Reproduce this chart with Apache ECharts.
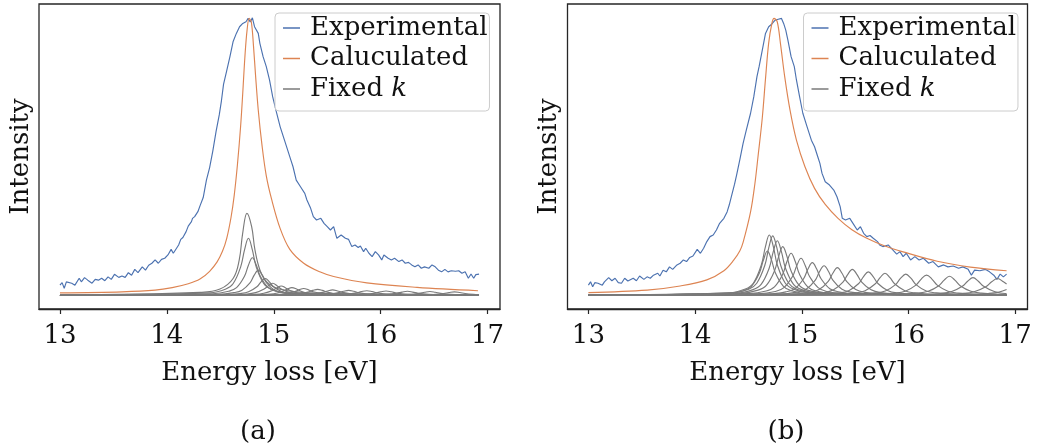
<!DOCTYPE html>
<html>
<head>
<meta charset="utf-8">
<script src="https://cdn.jsdelivr.net/npm/echarts@6.0.0/dist/echarts.min.js"></script>
<style>
html,body{margin:0;padding:0;background:#fff;}
#chart{width:1040px;height:446px;}
</style>
</head>
<body>
<div id="chart"></div>
<script>
// ---------- DATA ----------
const xTicks = [13, 14, 15, 16, 17];
const legendNames = ['Experimental', 'Caluculated', 'Fixed k'];
const panelLabels = ['(a)', '(b)'];

const expLeft = [[13.00,.036],[13.02,.045],[13.04,.025],[13.06,.048],[13.11,.043],[13.14,.036],[13.18,.061],[13.20,.048],[13.23,.063],[13.26,.054],[13.30,.043],[13.33,.057],[13.36,.054],[13.39,.061],[13.42,.052],[13.45,.066],[13.48,.057],[13.51,.075],[13.55,.064],[13.58,.069],[13.61,.064],[13.64,.081],[13.67,.072],[13.70,.093],[13.73,.081],[13.77,.102],[13.80,.090],[13.83,.108],[13.86,.115],[13.89,.127],[13.92,.115],[13.95,.129],[13.98,.133],[14.01,.145],[14.04,.165],[14.06,.151],[14.08,.163],[14.11,.181],[14.13,.201],[14.15,.208],[14.18,.229],[14.20,.249],[14.23,.265],[14.24,.277],[14.26,.283],[14.29,.301],[14.31,.322],[14.34,.352],[14.37,.415],[14.40,.460],[14.43,.520],[14.46,.590],[14.49,.650],[14.51,.700],[14.53,.760],[14.56,.810],[14.59,.860],[14.62,.915],[14.65,.944],[14.68,.968],[14.71,.980],[14.74,.986],[14.76,.998],[14.78,.985],[14.80,1.0],[14.82,.968],[14.855,.944],[14.87,.908],[14.90,.860],[14.93,.824],[14.96,.776],[14.99,.715],[15.02,.667],[15.06,.607],[15.10,.559],[15.13,.523],[15.16,.487],[15.18,.463],[15.21,.415],[15.25,.391],[15.29,.367],[15.31,.343],[15.345,.313],[15.37,.283],[15.40,.271],[15.44,.277],[15.47,.259],[15.50,.247],[15.53,.235],[15.56,.247],[15.59,.205],[15.63,.217],[15.67,.205],[15.70,.201],[15.73,.175],[15.76,.181],[15.79,.172],[15.81,.177],[15.84,.157],[15.86,.169],[15.89,.151],[15.92,.139],[15.95,.157],[15.98,.145],[16.01,.127],[16.03,.145],[16.07,.133],[16.10,.127],[16.13,.133],[16.17,.121],[16.20,.127],[16.23,.115],[16.26,.118],[16.29,.109],[16.32,.102],[16.35,.109],[16.38,.097],[16.41,.102],[16.45,.097],[16.48,.109],[16.51,.102],[16.54,.090],[16.57,.084],[16.60,.093],[16.63,.084],[16.66,.088],[16.70,.086],[16.73,.088],[16.76,.079],[16.79,.084],[16.82,.061],[16.845,.076],[16.87,.061],[16.89,.074],[16.92,.076]];

const calcLeft = [[13.00,.008],[13.58,.012],[13.89,.018],[14.05,.027],[14.20,.041],[14.31,.058],[14.40,.086],[14.47,.120],[14.52,.158],[14.56,.205],[14.60,.280],[14.63,.360],[14.66,.470],[14.69,.610],[14.71,.730],[14.73,.860],[14.75,.955],[14.77,.998],[14.79,.985],[14.81,.900],[14.83,.790],[14.855,.667],[14.89,.540],[14.93,.430],[14.98,.345],[15.06,.240],[15.15,.165],[15.28,.115],[15.43,.084],[15.56,.067],[15.87,.044],[16.34,.028],[16.91,.016]];

const fixedKLeft = [
 [[13,0],[14.31,0.01],[14.497,0.022],[14.621,0.061],[14.677,0.127],[14.709,0.223],[14.749,0.295],[14.793,0.247],[14.824,0.163],[14.871,0.09],[14.934,0.048],[15.06,0.021],[15.4,0.007],[16.92,0.001]],
 [[13,0],[14.403,0.008],[14.547,0.021],[14.619,0.041],[14.691,0.103],[14.727,0.164],[14.763,0.205],[14.799,0.164],[14.835,0.103],[14.907,0.041],[14.979,0.021],[15.123,0.008],[16.92,0]],
 [[13,0],[14.43,0.005],[14.578,0.014],[14.652,0.027],[14.726,0.068],[14.763,0.108],[14.8,0.135],[14.837,0.108],[14.874,0.068],[14.948,0.027],[15.022,0.014],[15.17,0.005],[16.92,0]],
 [[13,0],[14.475,0.003],[14.627,0.009],[14.703,0.018],[14.779,0.045],[14.817,0.072],[14.855,0.09],[14.893,0.072],[14.931,0.045],[15.007,0.018],[15.083,0.009],[15.235,0.003],[16.92,0]],
 [[13,0],[14.53,0.002],[14.686,0.006],[14.764,0.012],[14.842,0.03],[14.881,0.048],[14.92,0.06],[14.959,0.048],[14.998,0.03],[15.076,0.012],[15.154,0.006],[15.31,0.002],[16.92,0]],
 [[13,0],[14.59,0.002],[14.75,0.004],[14.83,0.009],[14.91,0.022],[14.95,0.034],[14.99,0.043],[15.03,0.034],[15.07,0.022],[15.15,0.009],[15.23,0.004],[15.39,0.002],[16.92,0]],
 [[13,0],[14.66,0.001],[14.824,0.003],[14.906,0.007],[14.988,0.017],[15.029,0.026],[15.07,0.033],[15.111,0.026],[15.152,0.017],[15.234,0.007],[15.316,0.003],[15.48,0.001],[16.92,0]],
 [[13,0],[14.745,0.001],[14.915,0.003],[15.0,0.005],[15.085,0.014],[15.128,0.022],[15.17,0.027],[15.213,0.022],[15.255,0.014],[15.34,0.005],[15.425,0.003],[15.595,0.001],[16.92,0]],
 [[13,0],[14.84,0.001],[15.016,0.002],[15.104,0.005],[15.192,0.012],[15.236,0.019],[15.28,0.024],[15.324,0.019],[15.368,0.012],[15.456,0.005],[15.544,0.002],[15.72,0.001],[16.92,0]],
 [[13,0],[14.96,0.001],[15.14,0.002],[15.23,0.004],[15.32,0.011],[15.365,0.017],[15.41,0.021],[15.455,0.017],[15.5,0.011],[15.59,0.004],[15.68,0.002],[15.86,0.001],[16.92,0]],
 [[13,0],[15.085,0.001],[15.271,0.002],[15.364,0.004],[15.457,0.01],[15.504,0.015],[15.55,0.019],[15.597,0.015],[15.643,0.01],[15.736,0.004],[15.829,0.002],[16.015,0.001],[16.92,0]],
 [[13,0],[15.22,0.001],[15.412,0.002],[15.508,0.003],[15.604,0.009],[15.652,0.014],[15.7,0.017],[15.748,0.014],[15.796,0.009],[15.892,0.003],[15.988,0.002],[16.18,0.001],[16.92,0]],
 [[13,0],[15.37,0.001],[15.57,0.002],[15.67,0.003],[15.77,0.008],[15.82,0.013],[15.87,0.016],[15.92,0.013],[15.97,0.008],[16.07,0.003],[16.17,0.002],[16.37,0.001],[16.92,0]],
 [[13,0],[15.55,0.001],[15.75,0.0015],[15.85,0.003],[15.95,0.0075],[16.0,0.012],[16.05,0.015],[16.1,0.012],[16.15,0.0075],[16.25,0.003],[16.35,0.0015],[16.55,0.001],[16.92,0]],
 [[13,0],[15.75,0.001],[15.95,0.0014],[16.05,0.003],[16.15,0.007],[16.2,0.011],[16.25,0.014],[16.3,0.011],[16.35,0.007],[16.45,0.003],[16.55,0.0014],[16.75,0.001],[16.92,0]],
 [[13,0],[15.96,0.0005],[16.16,0.0013],[16.26,0.0026],[16.36,0.0065],[16.41,0.0104],[16.46,0.013],[16.51,0.0104],[16.56,0.0065],[16.66,0.0026],[16.76,0.0013],[16.92,0.0006]],
 [[13,0],[16.19,0.0005],[16.39,0.0012],[16.49,0.0024],[16.59,0.006],[16.64,0.0096],[16.69,0.012],[16.74,0.0096],[16.79,0.006],[16.89,0.0024],[16.92,0.0019]]
];

const expRight = [[13.00,.036],[13.02,.048],[13.04,.030],[13.06,.045],[13.09,.043],[13.13,.036],[13.15,.048],[13.19,.063],[13.22,.052],[13.25,.061],[13.28,.045],[13.31,.043],[13.34,.061],[13.37,.051],[13.42,.061],[13.45,.052],[13.48,.069],[13.52,.057],[13.55,.066],[13.58,.061],[13.61,.072],[13.65,.079],[13.67,.069],[13.70,.090],[13.73,.084],[13.76,.102],[13.79,.093],[13.83,.109],[13.86,.115],[13.89,.127],[13.92,.121],[13.95,.136],[13.98,.141],[14.02,.165],[14.05,.151],[14.08,.169],[14.11,.193],[14.14,.211],[14.17,.217],[14.20,.235],[14.23,.259],[14.27,.277],[14.30,.300],[14.32,.325],[14.34,.355],[14.37,.400],[14.39,.435],[14.42,.490],[14.45,.547],[14.48,.595],[14.52,.656],[14.55,.715],[14.58,.788],[14.60,.824],[14.63,.884],[14.66,.944],[14.69,.968],[14.72,.978],[14.75,.992],[14.78,.995],[14.81,.998],[14.83,.980],[14.85,.956],[14.87,.920],[14.90,.860],[14.93,.824],[14.95,.776],[14.98,.715],[15.01,.656],[15.05,.607],[15.09,.559],[15.12,.535],[15.15,.499],[15.17,.475],[15.19,.439],[15.22,.409],[15.26,.397],[15.30,.379],[15.33,.355],[15.36,.319],[15.38,.277],[15.41,.271],[15.45,.277],[15.48,.259],[15.52,.235],[15.55,.247],[15.58,.223],[15.61,.211],[15.64,.215],[15.67,.205],[15.71,.193],[15.73,.181],[15.76,.175],[15.78,.177],[15.81,.181],[15.84,.169],[15.89,.148],[15.92,.157],[15.95,.139],[15.98,.151],[16.02,.127],[16.06,.139],[16.10,.127],[16.14,.133],[16.19,.115],[16.23,.121],[16.28,.102],[16.33,.109],[16.37,.102],[16.42,.105],[16.47,.097],[16.51,.102],[16.56,.093],[16.59,.072],[16.62,.090],[16.67,.088],[16.72,.093],[16.76,.084],[16.80,.072],[16.83,.057],[16.86,.076],[16.89,.066],[16.92,.076]];

const calcRight = [[13.00,.009],[13.55,.018],[13.86,.033],[14.11,.055],[14.27,.088],[14.36,.125],[14.42,.160],[14.45,.190],[14.52,.300],[14.56,.400],[14.59,.500],[14.63,.640],[14.66,.780],[14.69,.910],[14.72,.980],[14.74,.998],[14.77,.986],[14.80,.908],[14.84,.788],[14.89,.667],[14.95,.559],[15.03,.463],[15.12,.385],[15.22,.327],[15.34,.277],[15.47,.236],[15.61,.205],[15.78,.177],[15.95,.156],[16.27,.122],[16.58,.101],[16.92,.088]];

const fixedKRight = [
 [[13,0],[14.303,0.006],[14.453,0.016],[14.528,0.032],[14.603,0.08],[14.641,0.127],[14.678,0.159],[14.716,0.127],[14.753,0.08],[14.828,0.032],[14.903,0.016],[15.053,0.006],[16.92,0]],
 [[13,0],[14.321,0.008],[14.471,0.022],[14.546,0.043],[14.621,0.109],[14.659,0.174],[14.696,0.217],[14.734,0.174],[14.771,0.109],[14.846,0.043],[14.921,0.022],[15.071,0.008],[16.92,0]],
 [[13,0],[14.353,0.008],[14.503,0.021],[14.578,0.043],[14.653,0.107],[14.691,0.171],[14.728,0.214],[14.766,0.171],[14.803,0.107],[14.878,0.043],[14.953,0.021],[15.103,0.008],[16.92,0]],
 [[13,0],[14.391,0.007],[14.543,0.02],[14.619,0.039],[14.695,0.098],[14.733,0.157],[14.771,0.196],[14.809,0.157],[14.847,0.098],[14.923,0.039],[14.999,0.02],[15.151,0.007],[16.92,0]],
 [[13,0],[14.437,0.007],[14.591,0.018],[14.668,0.035],[14.745,0.088],[14.784,0.14],[14.822,0.175],[14.861,0.14],[14.899,0.088],[14.976,0.035],[15.053,0.018],[15.207,0.007],[16.92,0]],
 [[13,0],[14.51,0.006],[14.666,0.015],[14.744,0.03],[14.822,0.076],[14.861,0.121],[14.9,0.151],[14.939,0.121],[14.978,0.076],[15.056,0.03],[15.134,0.015],[15.29,0.006],[16.92,0]],
 [[13,0],[14.593,0.005],[14.753,0.013],[14.833,0.027],[14.913,0.067],[14.953,0.106],[14.993,0.133],[15.033,0.106],[15.073,0.067],[15.153,0.027],[15.233,0.013],[15.393,0.005],[16.92,0]],
 [[13,0],[14.689,0.004],[14.853,0.012],[14.935,0.023],[15.017,0.059],[15.058,0.094],[15.099,0.117],[15.14,0.094],[15.181,0.059],[15.263,0.023],[15.345,0.012],[15.509,0.004],[16.92,0]],
 [[13,0],[14.789,0.004],[14.957,0.011],[15.041,0.021],[15.125,0.053],[15.167,0.085],[15.209,0.106],[15.251,0.085],[15.293,0.053],[15.377,0.021],[15.461,0.011],[15.629,0.004],[16.92,0]],
 [[13,0],[14.904,0.004],[15.076,0.01],[15.162,0.02],[15.248,0.05],[15.291,0.079],[15.334,0.099],[15.377,0.079],[15.42,0.05],[15.506,0.02],[15.592,0.01],[15.764,0.004],[16.92,0]],
 [[13,0],[15.034,0.004],[15.21,0.009],[15.298,0.019],[15.386,0.047],[15.43,0.074],[15.474,0.093],[15.518,0.074],[15.562,0.047],[15.65,0.019],[15.738,0.009],[15.914,0.004],[16.92,0]],
 [[13,0],[15.174,0.003],[15.354,0.008],[15.444,0.017],[15.534,0.042],[15.579,0.067],[15.624,0.084],[15.669,0.067],[15.714,0.042],[15.804,0.017],[15.894,0.008],[16.074,0.003],[16.92,0]],
 [[13,0],[15.315,0.003],[15.501,0.008],[15.594,0.016],[15.687,0.04],[15.734,0.063],[15.78,0.079],[15.827,0.063],[15.873,0.04],[15.966,0.016],[16.059,0.008],[16.245,0.003],[16.92,0]],
 [[13,0],[15.495,0.003],[15.687,0.008],[15.783,0.015],[15.879,0.038],[15.927,0.061],[15.975,0.076],[16.023,0.061],[16.071,0.038],[16.167,0.015],[16.263,0.008],[16.455,0.003],[16.92,0]],
 [[13,0],[15.67,0.003],[15.87,0.007],[15.97,0.014],[16.07,0.036],[16.12,0.058],[16.17,0.072],[16.22,0.058],[16.27,0.036],[16.37,0.014],[16.47,0.007],[16.67,0.003],[16.92,0]],
 [[13,0],[15.885,0.003],[16.085,0.007],[16.185,0.014],[16.285,0.034],[16.335,0.054],[16.385,0.068],[16.435,0.054],[16.485,0.034],[16.585,0.014],[16.685,0.007],[16.885,0.003],[16.92,0.002]],
 [[13,0],[16.105,0.002],[16.305,0.006],[16.405,0.013],[16.505,0.032],[16.555,0.05],[16.605,0.063],[16.655,0.05],[16.705,0.032],[16.805,0.013],[16.905,0.006],[16.92,0.006]],
 [[13,0],[16.285,0.002],[16.505,0.006],[16.615,0.012],[16.725,0.03],[16.78,0.048],[16.835,0.06],[16.89,0.048],[16.92,0.04]],
 [[13,0],[16.55,0.002],[16.75,0.006],[16.85,0.011],[16.92,0.02]]
];

// ---------- STYLE / OPTION ----------
const FONT = 'DejaVu Serif';
const FS = 26;
const TXT = '#111111';
const FRAME = '#262626';
const BLUE = '#4c72b0', ORANGE = '#dd8452', GRAY = '#7a7a7a';

const grids = [
  {left: 39, top: 4, width: 461, height: 305},
  {left: 567.5, top: 4, width: 460, height: 305}
];

function xAx(i) {
  return {
    type: 'value', gridIndex: i, min: 12.804, max: 17.116,
    axisLine: {show: true, onZero: false, lineStyle: {color: FRAME, width: 1.3}},
    axisTick: {show: true, inside: false, length: 5, customValues: xTicks, lineStyle: {color: FRAME, width: 1.2}},
    axisLabel: {customValues: xTicks, fontFamily: FONT, fontSize: FS, color: TXT, margin: 14, formatter: v => String(v)},
    splitLine: {show: false},
    name: 'Energy loss [eV]', nameLocation: 'middle', nameGap: 51,
    nameTextStyle: {fontFamily: FONT, fontSize: FS, color: TXT}
  };
}
function yAx(i) {
  return {
    type: 'value', gridIndex: i, min: -0.05, max: 1.05,
    axisLine: {show: false}, axisTick: {show: false}, axisLabel: {show: false}, splitLine: {show: false},
    name: 'Intensity', nameLocation: 'middle', nameGap: 5, nameRotate: 90,
    nameTextStyle: {fontFamily: FONT, fontSize: FS, color: TXT}
  };
}
function legendAt(left) {
  return {
    orient: 'vertical', left: left, top: 13, selectedMode: false,
    data: legendNames, icon: 'rect', itemWidth: 17, itemHeight: 1.5, itemGap: 0.5,
    padding: [0, 2, 7, 8],
    backgroundColor: 'rgba(255,255,255,0.85)', borderColor: '#cccccc', borderWidth: 1, borderRadius: 4,
    textStyle: {fontFamily: FONT, fontSize: FS, color: TXT, lineHeight: 30, padding: [0, 0, 0, 5],
      rich: {i: {fontFamily: FONT, fontSize: FS, color: TXT, fontStyle: 'italic', lineHeight: 30}}},
    formatter: n => n === 'Fixed k' ? 'Fixed {i|k}' : n
  };
}

const series = [];
function addPanel(i, exp, calc, fixedK) {
  series.push({type: 'line', name: 'Experimental', xAxisIndex: i, yAxisIndex: i, data: exp, showSymbol: false, symbol: 'none', lineStyle: {color: BLUE, width: 1.15}, itemStyle: {color: BLUE}, z: 2});
  series.push({type: 'line', name: 'Caluculated', xAxisIndex: i, yAxisIndex: i, data: calc, showSymbol: false, symbol: 'none', smooth: 0.35, lineStyle: {color: ORANGE, width: 1.15}, itemStyle: {color: ORANGE}, z: 2});
  fixedK.forEach(pts => series.push({type: 'line', name: 'Fixed k', xAxisIndex: i, yAxisIndex: i, data: pts, showSymbol: false, symbol: 'none', smooth: 0.4, lineStyle: {color: GRAY, width: 1.15}, itemStyle: {color: GRAY}, z: 3}));
}
addPanel(0, expLeft, calcLeft, fixedKLeft);
addPanel(1, expRight, calcRight, fixedKRight);

const chart = echarts.init(document.getElementById('chart'), null, {renderer: 'canvas'});
chart.setOption({
  animation: false,
  backgroundColor: '#ffffff',
  grid: grids.map(g => Object.assign({show: true, borderColor: FRAME, borderWidth: 1.3, backgroundColor: 'transparent', containLabel: false}, g)),
  xAxis: [xAx(0), xAx(1)],
  yAxis: [yAx(0), yAx(1)],
  legend: [legendAt(275), legendAt(803.5)],
  graphic: [
    {type: 'text', x: 258, y: 432, style: {text: panelLabels[0], font: FS + 'px "' + FONT + '"', fill: TXT, textAlign: 'center', textVerticalAlign: 'middle'}},
    {type: 'text', x: 786, y: 432, style: {text: panelLabels[1], font: FS + 'px "' + FONT + '"', fill: TXT, textAlign: 'center', textVerticalAlign: 'middle'}}
  ],
  series: series
});
</script>
</body>
</html>
